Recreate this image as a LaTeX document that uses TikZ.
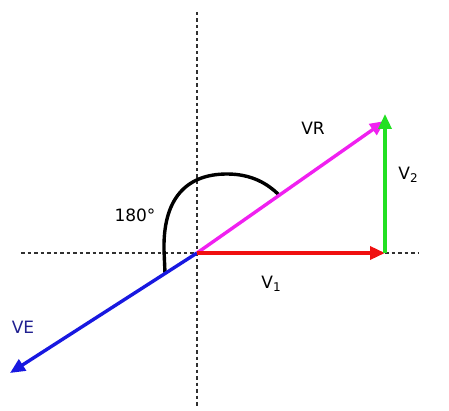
\documentclass[tikz,border=0pt]{standalone}
\usepackage{fontspec}
\setmainfont{DejaVu Sans}
\usetikzlibrary{arrows.meta}
\definecolor{cred}{HTML}{F01010}
\definecolor{cgreen}{HTML}{22E022}
\definecolor{cmag}{HTML}{F020F0}
\definecolor{cblue}{HTML}{1818E0}
\definecolor{cnavy}{HTML}{202090}
\definecolor{cdash}{HTML}{303030}
\tikzset{
  axis/.style={draw=cdash, line width=1.1pt, dash pattern=on 3.5pt off 3pt},
  vec/.style={line width=3.4pt, -{Triangle[length=15pt,width=13pt]}},
  lbl/.style={font=\fontsize{17}{17}\selectfont, inner sep=0pt},
}
\newcommand{\mysub}[1]{{\fontsize{12}{12}\selectfont\raisebox{-3pt}{#1}}}
\begin{document}
\begin{tikzpicture}[x=1pt,y=-1pt]
\useasboundingbox (0,0) rectangle (449,411);
\coordinate (L) at (21,253);
\coordinate (R) at (419,253);
\coordinate (T) at (197,12);
\coordinate (Bt) at (197,407);
\coordinate (O) at (197,253);
\coordinate (A) at (385,253);
\coordinate (B) at (385,114);
\coordinate (C) at (385,121);
\coordinate (E) at (10,373);
\draw[axis] (L) -- (R);
\draw[axis] (T) -- (Bt);
% arc
\draw[line width=3.4pt, line cap=round] (165,273) -- (164,250)
  .. controls (163,200) and (185,174) .. (227,174)
  .. controls (252,174) and (268,184) .. (279,195);
\draw[vec, cblue] (O) -- (E);
\draw[vec, cmag] (O) -- (C);
\draw[vec, cred] (O) -- (A);
\draw[vec, cgreen] (A) -- (B);
\node[lbl] (vr) at (313,128) {VR};
\node[lbl] (v2) at (408,175) {V\mysub{2}};
\node[lbl] (v1) at (271,284) {V\mysub{1}};
\node[lbl, text=cnavy] (ve) at (23,327) {VE};
\node[lbl] (deg) at (135,215) {180°};
\end{tikzpicture}
\end{document}
